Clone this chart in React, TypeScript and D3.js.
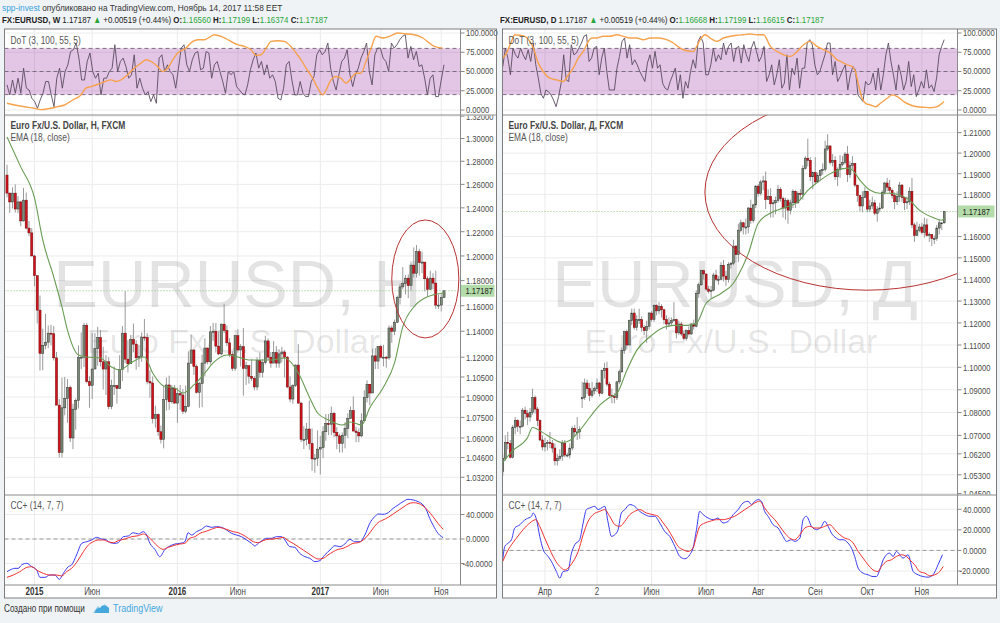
import React from 'react';
import * as d3 from 'd3';

const FONT = '"Liberation Sans", Arial, sans-serif';

// ---------- weekly EURUSD (left panel), opens = previous close ----------
const wFirstOpen = 1.268;
const wClose = [
  1.2525, 1.245, 1.2525, 1.239, 1.245, 1.229, 1.2465, 1.223, 1.219, 1.2,
  1.184, 1.1565, 1.123, 1.129, 1.1315, 1.1385, 1.138, 1.1195, 1.084, 1.0495,
  1.082, 1.089, 1.097, 1.06, 1.081, 1.0875, 1.12, 1.12, 1.1445, 1.1015,
  1.0985, 1.111, 1.1265, 1.135, 1.1165, 1.111, 1.1165, 1.083, 1.0985, 1.0985,
  1.0965, 1.1105, 1.1385, 1.1185, 1.115, 1.1335, 1.13, 1.1195, 1.1205, 1.1355,
  1.135, 1.1015, 1.1005, 1.074, 1.077, 1.0645, 1.059, 1.088, 1.099, 1.0865,
  1.0965, 1.0855, 1.0925, 1.0915, 1.0795, 1.083, 1.1155, 1.1255, 1.113, 1.0935,
  1.1, 1.1155, 1.127, 1.1165, 1.1395, 1.14, 1.1285, 1.1225, 1.1455, 1.1405,
  1.131, 1.122, 1.1115, 1.1365, 1.1255, 1.128, 1.1115, 1.1135, 1.1055, 1.104,
  1.0975, 1.1175, 1.1085, 1.116, 1.1325, 1.12, 1.1155, 1.1235, 1.1155, 1.1225,
  1.124, 1.12, 1.0975, 1.0885, 1.0985, 1.114, 1.0855, 1.059, 1.059, 1.0665,
  1.056, 1.045, 1.0455, 1.052, 1.053, 1.0645, 1.0705, 1.07, 1.078, 1.064,
  1.0615, 1.056, 1.062, 1.067, 1.074, 1.08, 1.065, 1.064, 1.0615, 1.0725,
  1.0895, 1.0995, 1.093, 1.121, 1.117, 1.128, 1.12, 1.12, 1.1195, 1.1425,
  1.14, 1.147, 1.1665, 1.175, 1.1775, 1.182, 1.176, 1.1925, 1.186, 1.2035,
  1.1945, 1.195, 1.1815, 1.173, 1.182, 1.178, 1.1605, 1.1605, 1.1665, 1.17187,
];
const wHigh = [
  1.277, 1.253, 1.2575, 1.26, 1.25, 1.246, 1.257, 1.253, 1.229, 1.223,
  1.201, 1.184, 1.168, 1.142, 1.1535, 1.1445, 1.145, 1.144, 1.124, 1.0885,
  1.1045, 1.105, 1.1035, 1.0985, 1.085, 1.089, 1.129, 1.139, 1.1465, 1.1465,
  1.1055, 1.1385, 1.1385, 1.1435, 1.141, 1.128, 1.1215, 1.12, 1.103, 1.113,
  1.099, 1.1215, 1.144, 1.1715, 1.133, 1.137, 1.146, 1.133, 1.1295, 1.139,
  1.1495, 1.1385, 1.11, 1.1055, 1.0835, 1.078, 1.069, 1.0985, 1.1045, 1.106,
  1.099, 1.099, 1.097, 1.099, 1.096, 1.0985, 1.1245, 1.1375, 1.126, 1.1145,
  1.1015, 1.122, 1.1345, 1.1275, 1.144, 1.1465, 1.1465, 1.14, 1.146, 1.1615,
  1.1445, 1.1345, 1.1245, 1.137, 1.1415, 1.13, 1.1425, 1.1165, 1.112, 1.1185,
  1.1055, 1.12, 1.1235, 1.1185, 1.1365, 1.1345, 1.124, 1.1325, 1.1285, 1.126,
  1.128, 1.1255, 1.121, 1.1055, 1.0995, 1.1145, 1.13, 1.0865, 1.0685, 1.071,
  1.0875, 1.067, 1.0485, 1.0655, 1.0615, 1.0685, 1.0775, 1.0775, 1.083, 1.079,
  1.068, 1.063, 1.064, 1.0715, 1.078, 1.083, 1.0905, 1.068, 1.067, 1.078,
  1.095, 1.1025, 1.0995, 1.1265, 1.127, 1.1285, 1.1295, 1.1295, 1.121, 1.1445,
  1.1445, 1.149, 1.168, 1.1775, 1.191, 1.1845, 1.185, 1.194, 1.207, 1.209,
  1.206, 1.2035, 1.195, 1.1835, 1.188, 1.186, 1.188, 1.169, 1.169, 1.172,
];
const wLow = [
  1.249, 1.2357, 1.2395, 1.236, 1.2355, 1.2245, 1.2285, 1.222, 1.2165, 1.2,
  1.1755, 1.146, 1.1098, 1.11, 1.126, 1.127, 1.129, 1.1175, 1.084, 1.046,
  1.046, 1.0765, 1.071, 1.057, 1.052, 1.066, 1.0815, 1.111, 1.1125, 1.1005,
  1.082, 1.0885, 1.111, 1.1135, 1.113, 1.0955, 1.0915, 1.081, 1.081, 1.0915,
  1.085, 1.096, 1.102, 1.1155, 1.1085, 1.115, 1.124, 1.1105, 1.1125, 1.1165,
  1.1325, 1.0995, 1.0895, 1.0705, 1.0675, 1.0615, 1.056, 1.0525, 1.08, 1.0805,
  1.085, 1.085, 1.071, 1.0805, 1.0775, 1.078, 1.0825, 1.115, 1.1065, 1.0925,
  1.082, 1.0825, 1.1055, 1.1145, 1.1145, 1.1325, 1.1235, 1.1215, 1.1215, 1.1385,
  1.1285, 1.12, 1.1095, 1.1095, 1.1235, 1.113, 1.091, 1.099, 1.1, 1.102,
  1.095, 1.095, 1.1045, 1.1045, 1.1145, 1.118, 1.112, 1.1155, 1.112, 1.112,
  1.116, 1.1045, 1.0965, 1.086, 1.085, 1.0975, 1.085, 1.057, 1.052, 1.0545,
  1.0515, 1.0365, 1.0352, 1.04, 1.034, 1.0455, 1.058, 1.062, 1.062, 1.0605,
  1.052, 1.0495, 1.0495, 1.0525, 1.06, 1.074, 1.065, 1.057, 1.057, 1.0605,
  1.0725, 1.086, 1.084, 1.093, 1.111, 1.111, 1.119, 1.113, 1.112, 1.118,
  1.131, 1.137, 1.1465, 1.161, 1.173, 1.169, 1.166, 1.172, 1.1825, 1.1825,
  1.184, 1.186, 1.1715, 1.167, 1.173, 1.173, 1.1575, 1.1575, 1.1555, 1.166,
];
const wEma: [number, number][] = [
  [0, 1.3014], [5, 1.2751], [10, 1.2484], [13, 1.2132], [17, 1.183], [20, 1.159], [22, 1.1409],
  [26, 1.1217], [29, 1.1202], [34, 1.1194], [38, 1.1125], [41, 1.1103], [45, 1.1156], [50, 1.1202],
  [53, 1.108], [57, 1.0982], [61, 1.0967], [64, 1.093], [68, 1.099], [72, 1.108], [75, 1.1156],
  [80, 1.1217], [84, 1.1202], [88, 1.1179], [96, 1.1179], [101, 1.1194], [106, 1.108], [110, 1.0901],
  [113, 1.0782], [117, 1.0731], [122, 1.0694], [125, 1.0716], [129, 1.0694], [132, 1.082],
  [137, 1.0975], [141, 1.1156], [144, 1.1434], [148, 1.159], [152, 1.1661], [155, 1.1686], [159, 1.1701],
];
const wDotFast = [
  32.6, 19.6, 39, 21.7, 41.3, 21.7, 54.3, 28.3, 26, 15.2,
  10.9, 2.2, 13, 21.7, 37, 37, 19.6, 4.3, 41.3, 54.3,
  28.3, 50, 58.7, 76, 78.3, 87, 67.4, 39, 39, 63,
  74, 50, 41.3, 47.8, 19.6, 41.3, 41.3, 50, 54.3, 84.8,
  50, 63, 67.4, 56.5, 41.3, 45.7, 71.7, 28.3, 41.3, 28.3,
  19.6, 23.9, 10.9, 19.6, 8.7, 67.4, 71.7, 50, 58.7, 50,
  45.7, 28.3, 54.3, 80.4, 84.8, 58.7, 50, 65.2, 74, 76,
  52.2, 54.3, 76, 74, 41.3, 58.7, 63, 50, 37, 21.7,
  50, 45.7, 50, 30.4, 26, 21.7, 19.6, 32.6, 52.2, 65.2,
  74, 54.3, 63, 45.7, 58.7, 41.3, 45.7, 37, 15.2, 13,
  28.3, 58.7, 63, 39, 19.6, 19.6, 37, 21.7, 17.4, 17.4,
  37, 43.5, 71.7, 78.3, 71.7, 76, 87, 54.3, 37, 26,
  45.7, 63, 67.4, 78.3, 45.7, 30.4, 45.7, 54.3, 67.4, 76,
  87, 50, 32.6, 71.7, 80.4, 80.4, 67.4, 63, 50, 87,
  80.4, 84.8, 91.3, 95.7, 97.8, 67.4, 82.6, 65.2, 76, 56.5,
  58.7, 41.3, 19.6, 41.3, 45.7, 17.4, 17.4, 39, 58.7,
];
const wDotSlow: [number, number][] = [
  [0, 8.7], [2.7, 6.5], [6.3, 4.3], [9.9, 2.2], [12.4, 0.5], [16, 2.2], [18.4, 4.3], [20.9, 6.5],
  [23.9, 13], [26.9, 19.6], [28.7, 28.3], [30.6, 30.4], [34.2, 34.8], [37.8, 39.1], [39.7, 37],
  [41.5, 39.1], [43.9, 45.7], [46.3, 54.3], [48.8, 60.9], [50.6, 65.2], [52.4, 63], [54.8, 56.5],
  [56.6, 50], [58.5, 54.3], [60.3, 65.2], [62.1, 73.9], [65.1, 80.4], [67.6, 89.1], [69.4, 91.3],
  [71.8, 91.3], [73.6, 94.3], [75.4, 97.8], [77.9, 95.7], [81.5, 89.1], [83.9, 84.8], [86.4, 82.6],
  [88.8, 78.3], [90.6, 70.9], [92.4, 71.7], [94.3, 80.4], [96.1, 89.1], [98.5, 90], [100.9, 89.1],
  [103.3, 82.6], [105.2, 73.9], [107, 65.2], [108.8, 54.3], [111.2, 41.3], [113.1, 28.3],
  [114.9, 19.6], [116.1, 26], [117.9, 39.1], [119.7, 43.5], [121.5, 41.3], [123.4, 34.8],
  [125.2, 41.3], [127, 47.8], [128.8, 47.8], [130.6, 63], [132.5, 80.4], [134.3, 95.7],
  [136.7, 93.5], [139.1, 95.7], [142.2, 100], [144.6, 99.1], [148.2, 97.8], [151.3, 93.5],
  [153.7, 87], [155.5, 82.6], [158.5, 80.4],
];
const wCcBlue: [number, number][] = [
  [0, -53.3], [1.1, -50.6], [2.9, -47.9], [4.1, -47.9], [5.3, -42.4], [7.2, -39.7], [9, -45.2],
  [10.8, -50.6], [12, -62.6], [13.8, -62.6], [15.6, -58.8], [17.5, -58.8], [19, -65.9], [20.5, -56.1],
  [22.3, -45.2], [23.5, -42.4], [25.3, -26.1], [27.2, -7.1], [29, -4.4], [30.8, -1.6], [32.6, 2.7],
  [34.4, 0], [36.2, -1.6], [37.5, -6], [39.3, -7.1], [40.5, -6], [42.3, 3.8], [44.1, 4.9],
  [45.9, 10.3], [47.8, 8.2], [49.6, 12], [50.8, 6.5], [52, -7.1], [53.8, -16.9], [55.6, -28.8],
  [57.5, -16.9], [59.3, -11.4], [61.1, -8.2], [62.9, -7.1], [64.7, -4.4], [65.9, 10.3], [67.2, 6.5],
  [69, 12], [70.8, 15.8], [72.6, 21.2], [74.4, 19], [76.2, 20.1], [78.1, 19], [79.9, 14.7],
  [81.7, 9.3], [83.5, 6.5], [85.3, 3.8], [87.2, -1.6], [89, -7.1], [90.2, -11.4], [91.4, -7.1],
  [93.2, -1.6], [94.4, 1.1], [96.2, 1.1], [98.1, 3.8], [99.9, 3.8], [101.1, -1.6], [102.9, -12.5],
  [104.7, -13.6], [106.5, -23.4], [108.4, -28.8], [110.2, -31.6], [112, -37], [113.8, -35.4],
  [115.6, -26.1], [117.5, -18], [119.3, -10.9], [121.1, -12.5], [122.9, -8.2], [124.7, -0.5],
  [126.5, -4.4], [128.4, -4.4], [130.2, 6.5], [132, 25.6], [133.8, 36.5], [135, 40.8], [136.8, 40.3],
  [138.7, 43], [140.5, 50.1], [142.3, 55.5], [144.1, 61], [145.9, 64.8], [147.8, 63.7], [149.6, 61],
  [151.4, 55.5], [152.6, 47.3], [153.8, 33.7], [155, 22.9], [156.8, 9.3], [158.1, 3.8], [158.7, 2.2],
];
const wCcRed: [number, number][] = [
  [0, -62.6], [2.3, -58.8], [4.7, -53.3], [7.2, -46.3], [9, -45.2], [10.8, -50.6], [13.2, -56.1],
  [15.6, -58.8], [18.1, -58.8], [19.9, -60.4], [21.7, -53.3], [23.5, -47.9], [25.9, -34.3],
  [27.8, -20.7], [29.6, -9.8], [31.4, -4.4], [33.2, -1.6], [35, -1.6], [36.8, -4.4], [38.7, -6],
  [40.5, -2.7], [42.9, 0], [45.3, 3.8], [47.8, 5.4], [49.6, 8.2], [51.4, 3.8], [53.2, -4.4],
  [55, -12.5], [56.8, -16.9], [58.7, -13.6], [60.5, -10.9], [62.9, -8.2], [64.7, -7.1], [66.5, 1.1],
  [68.4, 3.8], [70.2, 9.3], [72, 12], [74.4, 15.8], [76.8, 19], [78.7, 17.4], [80.5, 14.7],
  [82.3, 12], [84.1, 10.3], [85.9, 6.5], [87.8, 1.1], [89.6, -4.4], [91.4, -6], [93.2, -2.7],
  [95, -0.5], [96.8, 0], [98.7, 1.1], [100.5, 2.7], [102.3, -2.7], [104.1, -7.1], [105.9, -12.5],
  [107.8, -18], [109.6, -23.4], [111.4, -28.8], [113.2, -32.7], [115, -31.6], [116.8, -26.1],
  [118.7, -20.7], [120.5, -16.9], [122.3, -15.2], [124.1, -11.4], [125.9, -7.1], [127.8, -6],
  [129.6, -1.6], [131.4, 6.5], [133.2, 17.4], [135, 26.7], [136.8, 31], [138.7, 35.4], [140.5, 40.8],
  [142.3, 46.3], [144.1, 51.7], [145.9, 57.1], [147.8, 59.3], [149.6, 58.2], [151.4, 53.9],
  [153.2, 46.3], [155, 36.5], [156.8, 25.6], [158.7, 15.8],
];
const wPriceTicks = [1.32, 1.3, 1.28, 1.26, 1.24, 1.22, 1.2, 1.18, 1.16, 1.14, 1.12, 1.105, 1.09, 1.075, 1.06, 1.046, 1.032];
const wTimeLabels = ['2015', 'Июн', '2016', 'Июн', '2017', 'Июн', 'Ноя'];
const wTimeIdx = [10, 31, 62, 84, 114, 136, 158];
const wTimeBold = [true, false, true, false, true, false, false];

// ---------- daily EURUSD (right panel), opens = previous close ----------
const dFirstOpen = 1.0545;
const dGapIdx = [32];
const dGapOpen = [1.086];
const dClose = [
  1.06, 1.067, 1.0665, 1.0605, 1.0735, 1.0765, 1.074, 1.074, 1.081, 1.0795,
  1.078, 1.08, 1.0865, 1.0815, 1.0765, 1.068, 1.065, 1.0665, 1.067, 1.0665,
  1.0645, 1.059, 1.06, 1.061, 1.0665, 1.0615, 1.0615, 1.0645, 1.073, 1.0715,
  1.0715, 1.0725, 1.0865, 1.093, 1.0905, 1.0875, 1.0895, 1.0905, 1.093, 1.0885,
  1.0985, 1.0995, 1.0925, 1.0875, 1.087, 1.0865, 1.0935, 1.098, 1.1075, 1.116,
  1.11, 1.121, 1.1245, 1.118, 1.1215, 1.1215, 1.118, 1.1165, 1.1185, 1.1245,
  1.1215, 1.128, 1.1255, 1.1275, 1.126, 1.1215, 1.1195, 1.12, 1.121, 1.1215,
  1.1155, 1.1195, 1.115, 1.113, 1.1165, 1.115, 1.1195, 1.1185, 1.1335, 1.1375,
  1.144, 1.1425, 1.1355, 1.1345, 1.135, 1.142, 1.14, 1.14, 1.1465, 1.1415,
  1.14, 1.147, 1.1475, 1.1555, 1.1515, 1.163, 1.1665, 1.1645, 1.1645, 1.1735,
  1.1675, 1.175, 1.184, 1.1805, 1.186, 1.1865, 1.1775, 1.179, 1.1755, 1.176,
  1.177, 1.1825, 1.178, 1.1735, 1.177, 1.1725, 1.176, 1.1815, 1.176, 1.1805,
  1.18, 1.1925, 1.1975, 1.1965, 1.1885, 1.1905, 1.186, 1.189, 1.1915, 1.192,
  1.202, 1.2035, 1.1955, 1.1965, 1.1885, 1.192, 1.1945, 1.1955, 1.1995, 1.1895,
  1.194, 1.195, 1.1845, 1.1795, 1.1745, 1.1785, 1.1815, 1.173, 1.1745, 1.176,
  1.171, 1.173, 1.1735, 1.181, 1.1855, 1.1835, 1.182, 1.1795, 1.1765, 1.179,
  1.1845, 1.1785, 1.176, 1.1765, 1.1815, 1.1655, 1.1605, 1.163, 1.1645, 1.162,
  1.1655, 1.1605, 1.161, 1.159, 1.159, 1.164, 1.1665, 1.1665, 1.17187,
];
const dHigh = [
  1.0615, 1.07, 1.0715, 1.068, 1.0745, 1.078, 1.077, 1.0765, 1.082, 1.0825,
  1.081, 1.082, 1.0905, 1.0875, 1.0825, 1.077, 1.07, 1.069, 1.068, 1.0715,
  1.068, 1.0665, 1.062, 1.064, 1.068, 1.068, 1.0625, 1.0665, 1.074, 1.0745,
  1.078, 1.074, 1.0935, 1.095, 1.0945, 1.093, 1.0935, 1.0915, 1.095, 1.0935,
  1.099, 1.102, 1.1025, 1.0935, 1.0905, 1.0885, 1.094, 1.099, 1.109, 1.1165,
  1.117, 1.1215, 1.1265, 1.1265, 1.1235, 1.1265, 1.123, 1.119, 1.121, 1.125,
  1.1255, 1.1285, 1.1285, 1.1295, 1.1285, 1.1265, 1.1235, 1.1225, 1.1225, 1.1295,
  1.122, 1.121, 1.1205, 1.1165, 1.117, 1.1185, 1.12, 1.1215, 1.135, 1.1385,
  1.1445, 1.1445, 1.1425, 1.137, 1.137, 1.143, 1.1445, 1.1415, 1.148, 1.149,
  1.144, 1.148, 1.148, 1.1585, 1.156, 1.166, 1.168, 1.167, 1.1685, 1.174,
  1.1775, 1.1755, 1.1845, 1.185, 1.187, 1.189, 1.191, 1.1825, 1.183, 1.1775,
  1.179, 1.1845, 1.1835, 1.179, 1.1785, 1.178, 1.1775, 1.1825, 1.182, 1.1815,
  1.1825, 1.194, 1.1985, 1.207, 1.198, 1.191, 1.198, 1.1905, 1.192, 1.195,
  1.206, 1.2092, 1.2005, 1.1995, 1.1985, 1.193, 1.199, 1.1985, 1.2005, 1.2035,
  1.196, 1.1985, 1.195, 1.1845, 1.1795, 1.1815, 1.1835, 1.1815, 1.1775, 1.179,
  1.1775, 1.1745, 1.176, 1.182, 1.186, 1.188, 1.187, 1.183, 1.181, 1.1815,
  1.186, 1.185, 1.1785, 1.179, 1.1835, 1.188, 1.1665, 1.167, 1.166, 1.1665,
  1.169, 1.1685, 1.162, 1.161, 1.1605, 1.1655, 1.168, 1.1665, 1.172,
];
const dLow = [
  1.0525, 1.059, 1.064, 1.06, 1.06, 1.0705, 1.0715, 1.0705, 1.0735, 1.077,
  1.0745, 1.076, 1.079, 1.0795, 1.074, 1.0675, 1.0635, 1.063, 1.0635, 1.0645,
  1.0625, 1.057, 1.057, 1.059, 1.059, 1.0605, 1.0605, 1.06, 1.0635, 1.0695,
  1.068, 1.0685, 1.082, 1.0855, 1.088, 1.085, 1.0865, 1.088, 1.089, 1.087,
  1.088, 1.095, 1.0915, 1.087, 1.084, 1.084, 1.0855, 1.0925, 1.0975, 1.106,
  1.108, 1.11, 1.119, 1.117, 1.1165, 1.1195, 1.116, 1.1145, 1.111, 1.117,
  1.1205, 1.1205, 1.1235, 1.124, 1.1225, 1.1195, 1.117, 1.118, 1.119, 1.1205,
  1.113, 1.1145, 1.114, 1.112, 1.112, 1.1145, 1.1145, 1.117, 1.118, 1.1315,
  1.137, 1.14, 1.1345, 1.1335, 1.131, 1.1345, 1.139, 1.1375, 1.1395, 1.139,
  1.137, 1.1385, 1.145, 1.1465, 1.148, 1.148, 1.162, 1.161, 1.161, 1.1615,
  1.166, 1.1665, 1.1735, 1.179, 1.1795, 1.182, 1.173, 1.1775, 1.169, 1.169,
  1.1705, 1.176, 1.1765, 1.169, 1.168, 1.166, 1.1705, 1.1735, 1.1735, 1.1755,
  1.1775, 1.1775, 1.192, 1.1935, 1.1865, 1.1825, 1.185, 1.1855, 1.1865, 1.1895,
  1.191, 1.201, 1.1945, 1.1935, 1.187, 1.184, 1.188, 1.1935, 1.1945, 1.186,
  1.188, 1.192, 1.1835, 1.1765, 1.172, 1.1715, 1.1785, 1.1715, 1.1715, 1.173,
  1.17, 1.167, 1.1715, 1.173, 1.18, 1.1815, 1.1805, 1.178, 1.173, 1.175,
  1.1765, 1.1765, 1.1725, 1.173, 1.175, 1.164, 1.1575, 1.1605, 1.162, 1.161,
  1.1595, 1.16, 1.1575, 1.1555, 1.1565, 1.158, 1.161, 1.163, 1.166,
];
const dEma: [number, number][] = [
  [0, 1.0583], [4, 1.0634], [10, 1.0691], [12, 1.0734], [16, 1.0713], [20, 1.0687], [24, 1.0669],
  [27, 1.0678], [31, 1.0721], [35, 1.0778], [39, 1.0831], [43, 1.0866], [46, 1.0884], [50, 1.0986],
  [54, 1.1076], [59, 1.1134], [65, 1.118], [69, 1.1189], [74, 1.1189], [78, 1.1198], [82, 1.129],
  [88, 1.1335], [93, 1.1382], [95, 1.142], [99, 1.152], [103, 1.1663], [108, 1.1711], [113, 1.1735],
  [119, 1.1763], [123, 1.182], [127, 1.1859], [131, 1.1893], [135, 1.1917], [139, 1.1927],
  [141, 1.1917], [144, 1.1869], [148, 1.1821], [152, 1.1806], [156, 1.1806], [160, 1.1797],
  [164, 1.1773], [168, 1.1725], [173, 1.1692], [177, 1.1677], [178, 1.1687],
];
const dDotFast = [
  56.5, 80.4, 67.4, 45.7, 80.4, 71.7, 67.4, 80.4, 71.7, 65.2,
  78.3, 63, 87, 58.7, 41.3, 21.7, 15.2, 26, 23.9, 19.6,
  13, 4.3, 17.4, 34.8, 71.7, 39, 37, 84.8, 71.7, 73.9,
  80.4, 87, 95.7, 97.8, 63, 67.4, 80.4, 82.6, 45.7, 67.4,
  80.4, 50, 26, 26, 26, 54.3, 69.6, 89.1, 93.5, 67.4,
  84.8, 58.7, 65.2, 58.7, 50, 43.5, 37, 60.9, 71.7, 54.3,
  76.1, 54.3, 58.7, 34.8, 28.3, 26, 37, 45.7, 54.3, 26,
  45.7, 15.2, 37, 28.3, 50, 65.2, 54.3, 89.1, 95.7, 87,
  45.7, 45.7, 58.7, 80.4, 63, 71.7, 65.2, 87, 71.7, 82.6,
  87, 63, 80.4, 82.6, 60.9, 84.8, 71.7, 63, 80.4, 89.1,
  76.1, 63, 69.6, 82.6, 37, 45.7, 58.7, 32.6, 45.7, 65.2,
  28.3, 34.8, 71.7, 26, 54.3, 45.7, 67.4, 28.3, 54.3, 54.3,
  87, 91.3, 84.8, 58.7, 45.7, 50, 60.9, 71.7, 87, 87,
  45.7, 63, 37, 43.5, 52.2, 58.7, 26, 45.7, 56.5, 52.2,
  19.6, 15.2, 10.9, 37, 32.6, 34.8, 47.8, 26, 54.3, 26,
  45.7, 71.7, 87, 63, 45.7, 26, 58.7, 45.7, 26, 37,
  63, 30.4, 45.7, 17.4, 26, 37, 28.3, 52.2, 28.3, 32.6,
  23.9, 41.3, 71.7, 82.6, 91.3,
];
const dDotSlow: [number, number][] = [
  [0, 67.4], [1.5, 73.9], [3.5, 89.1], [4.8, 97.8], [6.9, 97], [8.9, 95.7], [10.9, 89.1],
  [12.3, 80.4], [14.3, 60.9], [16.3, 50], [19, 41.3], [21.7, 39.1], [24.4, 37], [26.4, 45.7],
  [28.4, 54.3], [30.4, 67.4], [32.5, 76.1], [34.5, 89.1], [35.8, 93.5], [37.8, 93.5], [40.5, 95.7],
  [43.2, 95.7], [45.9, 97.8], [48.6, 95.7], [51.3, 93.5], [54, 93.5], [56.7, 91.3], [59.4, 93.5],
  [62.8, 93.5], [66.1, 91.3], [68.8, 87], [71.5, 80.4], [74.2, 77], [76.9, 76.1], [78.2, 82.6],
  [79.6, 91.3], [81.6, 97.8], [83.6, 93.5], [86.3, 89.1], [89, 93.5], [91.7, 95.7], [94.4, 97],
  [97.1, 97.8], [99.8, 98.7], [102.5, 97.8], [105.2, 97.8], [107.9, 82.6], [110.6, 76.1],
  [113.3, 71.7], [116, 69.6], [118.7, 76.1], [121.3, 84.8], [124, 89.1], [126.7, 82.6],
  [129.4, 78.3], [132.1, 73.9], [134.8, 65.2], [136.2, 63], [138.9, 58.7], [140.9, 56.5],
  [142.2, 50], [143.6, 30.4], [144.9, 15.2], [146.3, 8.7], [148.3, 6.5], [150.3, 4.3], [152.3, 8.7],
  [155, 15.2], [157, 19.6], [159.1, 17.4], [161.7, 10.9], [164.4, 6.5], [167.1, 4.3], [169.8, 3.5],
  [172.5, 3], [175.2, 4.3], [177.9, 10.9],
];
const dCcBlue: [number, number][] = [
  [0, -9.1], [0.8, 3.9], [2.2, 7.2], [3.5, 10.4], [4.8, 21.8], [6.9, 25], [8.2, 28.3], [9.5, 30.6],
  [11.6, 33.2], [12.2, 36.4], [13.6, 29.9], [14.9, 13.7], [16.3, 0.7], [18.3, -5.9], [19.6, -10.7],
  [21.6, -20.5], [23, -27], [24.3, -20.5], [26.3, -19.5], [27.7, -2.6], [29, 5.5], [31, 10.4],
  [32.4, 26.7], [33.7, 39.7], [35.1, 41.3], [37.1, 42.9], [38.4, 39.7], [39.8, 41.3], [41.1, 42.9],
  [42.5, 26.7], [43.8, 13.7], [45.2, 15.3], [46.5, 20.2], [47.8, 36.4], [49.2, 39.7], [51.2, 44.6],
  [53.2, 42.9], [55.2, 38], [57.3, 34.8], [59.3, 33.2], [61.3, 33.2], [63.3, 26.7], [65.3, 18.5],
  [67.3, 13.7], [69.4, 3.9], [71.4, -5.9], [73.4, -8.1], [75.4, -4.2], [76.7, 2.3], [78.1, 20.2],
  [79.4, 38], [80.8, 34.8], [82.8, 31.5], [84.8, 29.9], [86.8, 31.5], [88.8, 26.7], [90.9, 28.3],
  [92.9, 34.8], [94.9, 39.7], [96.9, 46.2], [98.9, 47.8], [100.3, 44.6], [101.6, 47.8], [103, 49.4],
  [104.3, 47.8], [105.6, 38], [107, 33.2], [109, 25], [111, 21.8], [113, 13.7], [114.4, 8.8],
  [116.4, 10.4], [117.7, 8.8], [119.8, 12], [121.1, 29.9], [122.4, 33.2], [124.5, 23.4], [126.5, 20.2],
  [128.5, 23.4], [129.8, 28.3], [131.2, 23.4], [132.5, 16.9], [134.5, 12], [135.9, 10.4],
  [137.2, 10.4], [139.2, 7.2], [140.6, 2.3], [141.9, -5.9], [143.3, -17.2], [145.3, -22.1],
  [147.3, -23.7], [149.3, -25.4], [150.7, -25.4], [152, -18.9], [153.4, -9.1], [154.7, -4.2],
  [156, -2.6], [157.4, -5.9], [158.7, -1], [160.1, -4.2], [161.4, -7.5], [163.4, -4.2],
  [165.5, -20.5], [167.5, -23.7], [169.5, -25.4], [171.5, -26], [173.5, -23.7], [175.5, -14], [177.3, -4.2],
];
const dCcRed: [number, number][] = [
  [0, -10.7], [1.5, -2.6], [3.5, 5.5], [5.5, 12], [8.2, 20.2], [10.9, 26.7], [13.3, 29.9], [14.9, 23.4],
  [16.9, 12], [19, 0.7], [21, -9.1], [23, -15.6], [25, -18.9], [26.3, -17.2], [28.4, -10.7], [30.4, -1],
  [32.4, 15.3], [34.4, 28.3], [36.4, 34.8], [39.1, 38], [41.1, 39.7], [43.1, 33.2], [45.2, 25],
  [47.2, 23.4], [49.2, 28.3], [51.2, 34.8], [53.2, 38], [55.2, 39.7], [57.9, 36.4], [60.6, 34.8],
  [62.6, 33.2], [64.7, 26.7], [66.7, 20.2], [68.7, 12], [70.7, 3.9], [72.7, 0.7], [74.7, -1],
  [76.7, 2.3], [78.1, 13.7], [79.4, 23.4], [81.5, 26.7], [83.5, 28.3], [86.2, 29.9], [88.8, 29.9],
  [91.5, 31.5], [93.5, 33.2], [95.6, 36.4], [97.6, 39.7], [99.6, 42.9], [101.6, 46.2], [103.6, 47.8],
  [105.6, 41.3], [107.7, 34.8], [109.7, 29.9], [111.7, 23.4], [113.7, 16.9], [115.7, 12],
  [117.7, 10.4], [119.8, 15.3], [121.8, 21.8], [123.8, 23.4], [125.8, 21.8], [127.8, 21.8],
  [129.8, 23.4], [131.9, 25], [133.9, 20.2], [135.9, 15.3], [137.9, 12], [139.9, 10.4], [141.3, 7.2],
  [143.3, -1], [145.3, -7.5], [147.3, -14], [149.3, -18.9], [151.3, -20.5], [152.7, -15.6],
  [154.7, -10.7], [156.7, -9.1], [158.7, -5.9], [160.8, -4.2], [162.8, -5.9], [164.1, -9.1],
  [166.1, -14], [168.1, -20.5], [170.2, -22.1], [172.2, -24.7], [174.2, -23.7], [176.2, -20.5], [177.6, -15.6],
];
const dPriceTicks = [1.21, 1.2, 1.19, 1.18, 1.16, 1.15, 1.14, 1.13, 1.12, 1.11, 1.1, 1.09, 1.08, 1.07, 1.062, 1.053, 1.045];
const dTimeLabels = ['Апр', '2', 'Июн', 'Июл', 'Авг', 'Сен', 'Окт', 'Ноя'];
const dTimeIdx = [17, 38, 60, 82, 103, 126, 147, 169];
const dTimeBold = [false, false, false, false, false, false, false, false];

const dotTicks = [100, 75, 50, 25, 0];
const dotLevels = [80, 50, 20];

// ---------- layout ----------
const TOP = 29;
const DOT_B = 115;
const PRICE_B = 495;
const CC_B = 585;
const BOTTOM = 598;

const UP_FILL = '#7c8b77';
const UP_STROKE = '#333';
const DOWN_FILL = '#d0121c';
const DOWN_STROKE = '#6e0b0b';
const LABEL = '#4a4a4a';
const GREEN_TXT = '#2aa53a';
const SX = 0.8; // the screenshot's UI font is narrower than Liberation Sans

// text squeezed horizontally around its anchor point
function T({ x, y, sx = SX, children, ...rest }: any) {
  return (
    <text transform={`translate(${x},${y}) scale(${sx},1)`} fontFamily={FONT} {...rest}>
      {children}
    </text>
  );
}

interface PanelProps {
  id: string;
  left: number;
  axisX: number;
  right: number;
  xRange: [number, number];
  firstOpen: number;
  close: number[];
  high: number[];
  low: number[];
  gapIdx: number[];
  gapOpen: number[];
  ema: [number, number][];
  dotFast: number[];
  dotSlow: [number, number][];
  ccBlue: [number, number][];
  ccRed: [number, number][];
  priceDomain: [number, number];
  priceTicks: number[];
  ccDomain: [number, number];
  ccRange: [number, number];
  ccTicks: number[];
  timeLabels: string[];
  timeIdx: number[];
  timeBold: boolean[];
  title: string;
  watermark: string;
  ellipse: { i0: number; i1: number; pTop: number; pBottom: number };
  ticker: string;
  ohlc: string[];
}

function Panel(p: PanelProps) {
  const n = p.close.length;
  const last = n - 1;
  const x = d3.scaleLinear().domain([0, last]).range(p.xRange);
  const y = d3.scaleLog().domain(p.priceDomain).range([PRICE_B, DOT_B]);
  const yDot = d3.scaleLinear().domain([0, 100]).range([110, 33]);
  const yCc = d3.scaleLinear().domain(p.ccDomain).range(p.ccRange);
  const plotW = p.axisX - p.left;
  const step = x(1) - x(0);
  const bw = step * 0.78;

  const priceLine = d3.line<[number, number]>().x(d => x(d[0])).y(d => y(d[1])).curve(d3.curveMonotoneX);
  const dotLine = d3.line<[number, number]>().x(d => x(d[0])).y(d => yDot(d[1]));
  const dotSmooth = d3.line<[number, number]>().x(d => x(d[0])).y(d => yDot(d[1])).curve(d3.curveMonotoneX);
  const ccLine = d3.line<[number, number]>().x(d => x(d[0])).y(d => yCc(d[1])).curve(d3.curveMonotoneX);
  const fastPts: [number, number][] = p.dotFast.map((v, j) => [(j * last) / (p.dotFast.length - 1), v]);

  const lastClose = p.close[last];
  const e = p.ellipse;
  const ex0 = x(e.i0), ex1 = x(e.i1);
  const ey0 = y(e.pTop), ey1 = y(e.pBottom);

  const wmX = (p.left + p.axisX) / 2 + 5;

  return (
    <g>
      <defs>
        <clipPath id={`${p.id}-dot`}><rect x={p.left} y={TOP} width={plotW} height={DOT_B - TOP} /></clipPath>
        <clipPath id={`${p.id}-price`}><rect x={p.left} y={DOT_B} width={plotW} height={PRICE_B - DOT_B} /></clipPath>
        <clipPath id={`${p.id}-cc`}><rect x={p.left} y={PRICE_B} width={plotW} height={CC_B - PRICE_B} /></clipPath>
        <clipPath id={`${p.id}-axis`}><rect x={p.axisX} y={DOT_B + 0.5} width={p.right - p.axisX} height={PRICE_B - DOT_B - 1} /></clipPath>
      </defs>
      <rect x={p.left} y={TOP} width={p.right - p.left} height={BOTTOM - TOP} fill="#fff" />

      {/* header line */}
      <T x={p.left - 2.5} y={23} sx={0.81} fontSize={9.8} fill="#222">
        <tspan fontWeight="bold">{p.ticker}</tspan>
        <tspan>{` ${lastClose.toFixed(5)} `}</tspan>
        <tspan fill={GREEN_TXT}>▲</tspan>
        <tspan>{' +0.00519 (+0.44%) '}</tspan>
        {['O:', 'H:', 'L:', 'C:'].map((k, i) => (
          <React.Fragment key={k}>
            <tspan fontWeight="bold">{k}</tspan>
            <tspan fill={GREEN_TXT}>{p.ohlc[i] + (i < 3 ? ' ' : '')}</tspan>
          </React.Fragment>
        ))}
      </T>

      {/* vertical grid */}
      {p.timeIdx.map((t, i) => (
        <line key={'vg' + i} x1={x(t)} x2={x(t)} y1={TOP} y2={CC_B} stroke="#ebebeb" />
      ))}

      {/* ---- DoT pane ---- */}
      <g clipPath={`url(#${p.id}-dot)`}>
        {dotTicks.map(v => (
          <line key={'dg' + v} x1={p.left} x2={p.axisX} y1={yDot(v)} y2={yDot(v)} stroke="#ececec" />
        ))}
        <rect x={p.left} y={yDot(80)} width={plotW} height={yDot(20) - yDot(80)} fill="rgba(150,40,160,0.27)" />
        {dotLevels.map(v => (
          <line key={'dl' + v} x1={p.left} x2={p.axisX} y1={yDot(v)} y2={yDot(v)} stroke="#7d6d80" strokeDasharray="4 3" />
        ))}
        <path d={dotLine(fastPts) || ''} fill="none" stroke="#5a4c60" strokeWidth={0.9} />
        <path d={dotSmooth(p.dotSlow) || ''} fill="none" stroke="#f7a24c" strokeWidth={1.4} />
      </g>
      <T x={p.left + 6} y={44} fontSize={10.5} fill="#555">DoT (3, 100, 55, 5)</T>

      {/* ---- price pane ---- */}
      <g clipPath={`url(#${p.id}-price)`}>
        {p.priceTicks.map(v => (
          <line key={'pg' + v} x1={p.left} x2={p.axisX} y1={y(v)} y2={y(v)} stroke="#ececec" />
        ))}
        <text x={wmX} y={307} textAnchor="middle" fontSize={67} fill="rgba(0,0,0,0.11)" fontFamily={FONT}>{p.watermark}</text>
        <text x={wmX - 4} y={353} textAnchor="middle" fontSize={34} fill="rgba(0,0,0,0.11)" fontFamily={FONT}>Euro Fx/U.S. Dollar</text>
        <line x1={p.left} x2={p.axisX} y1={y(lastClose)} y2={y(lastClose)} stroke="#8cc47e" strokeDasharray="1 2" />
        {p.close.map((c, i) => {
          const gi = p.gapIdx.indexOf(i);
          const o = gi >= 0 ? p.gapOpen[gi] : i === 0 ? p.firstOpen : p.close[i - 1];
          const hi = Math.max(p.high[i], o, c);
          const lo = Math.min(p.low[i], o, c);
          const up = c >= o;
          const cx = x(i);
          const top = y(Math.max(o, c));
          const h = Math.max(1, y(Math.min(o, c)) - top);
          return (
            <g key={'c' + i}>
              <line x1={cx} x2={cx} y1={y(hi)} y2={y(lo)} stroke="#9a9a9a" strokeWidth={1} />
              <rect x={cx - bw / 2} y={top} width={bw} height={h} fill={up ? UP_FILL : DOWN_FILL} stroke={up ? UP_STROKE : DOWN_STROKE} strokeWidth={0.5} />
            </g>
          );
        })}
        <path d={priceLine(p.ema) || ''} fill="none" stroke="#6a9c55" strokeWidth={1.1} />
        <ellipse cx={(ex0 + ex1) / 2} cy={(ey0 + ey1) / 2} rx={(ex1 - ex0) / 2} ry={(ey1 - ey0) / 2} fill="none" stroke="#b83232" strokeWidth={1} />
      </g>
      <T x={p.left + 6} y={129} fontSize={10.5} fontWeight="bold" fill="#444">{p.title}</T>
      <T x={p.left + 6} y={141} fontSize={10.5} fill="#555">EMA (18, close)</T>

      {/* ---- CC pane ---- */}
      <g clipPath={`url(#${p.id}-cc)`}>
        {p.ccTicks.map(v => (
          <line key={'cg' + v} x1={p.left} x2={p.axisX} y1={yCc(v)} y2={yCc(v)} stroke="#ececec" />
        ))}
        <line x1={p.left} x2={p.axisX} y1={yCc(0)} y2={yCc(0)} stroke="#9a9a9a" strokeDasharray="4 3" />
        <path d={ccLine(p.ccBlue) || ''} fill="none" stroke="#3b3bf0" strokeWidth={1} />
        <path d={ccLine(p.ccRed) || ''} fill="none" stroke="#f03030" strokeWidth={1} />
      </g>
      <T x={p.left + 6} y={509} fontSize={10.5} fill="#555">CC+ (14, 7, 7)</T>

      {/* ---- right axis ---- */}
      <g fill={LABEL}>
        {dotTicks.map(v => (
          <g key={'dt' + v}>
            <line x1={p.axisX} x2={p.axisX + 4} y1={yDot(v)} y2={yDot(v)} stroke="#888" />
            <T x={p.axisX + 5.5} y={yDot(v) - 0.5} dy="0.35em" fontSize={9.5}>{v.toFixed(4)}</T>
          </g>
        ))}
        <g clipPath={`url(#${p.id}-axis)`}>
          {p.priceTicks.map(v => (
            <g key={'pt' + v}>
              <line x1={p.axisX} x2={p.axisX + 4} y1={y(v)} y2={y(v)} stroke="#888" />
              <T x={p.axisX + 5.5} y={y(v) + 0.5} dy="0.35em" fontSize={9.5}>{v.toFixed(5)}</T>
            </g>
          ))}
          <rect x={p.axisX} y={y(lastClose) - 6} width={p.right - p.axisX - 2} height={12} fill="#b4dcaa" />
          <T x={p.axisX + 5} y={y(lastClose)} dy="0.35em" fontSize={9.5} fill="#1c1c1c">{lastClose.toFixed(5)}</T>
        </g>
        {p.ccTicks.map(v => (
          <g key={'ct' + v}>
            <line x1={p.axisX} x2={p.axisX + 4} y1={yCc(v)} y2={yCc(v)} stroke="#888" />
            <T x={p.axisX + (v < 0 ? 2 : 5.5)} y={yCc(v)} dy="0.35em" fontSize={9.5}>{v.toFixed(4)}</T>
          </g>
        ))}
      </g>

      {/* ---- time axis ---- */}
      {p.timeLabels.map((s, i) => (
        <T key={'tl' + i} x={x(p.timeIdx[i])} y={595} fontSize={10} textAnchor="middle" fill={p.timeBold[i] ? '#333' : LABEL} fontWeight={p.timeBold[i] ? 'bold' : 'normal'}>{s}</T>
      ))}

      {/* separators and frame */}
      <line x1={p.left} x2={p.right} y1={DOT_B} y2={DOT_B} stroke="#8a8a8a" />
      <line x1={p.left} x2={p.right} y1={PRICE_B} y2={PRICE_B} stroke="#8a8a8a" />
      <line x1={p.left} x2={p.right} y1={CC_B} y2={CC_B} stroke="#8a8a8a" />
      <line x1={p.axisX} x2={p.axisX} y1={TOP} y2={CC_B} stroke="#8a8a8a" />
      <rect x={p.left} y={TOP} width={p.right - p.left} height={BOTTOM - TOP} fill="none" stroke="#7e7e7e" />
    </g>
  );
}

export default function App() {
  return (
    <svg width={1000} height={623} viewBox="0 0 1000 623" style={{ position: 'absolute', left: 0, top: 0, display: 'block' }}>
      <rect width={1000} height={623} fill="#f0f3f6" />
      <T x={2} y={11} sx={0.85} fontSize={9.8} fill="#333">
        <tspan fill="#3aa2dc">spp-invest</tspan>
        <tspan> опубликовано на TradingView.com, Ноябрь 14, 2017 11:58 EET</tspan>
      </T>
      <Panel
        id="w"
        left={4.5}
        axisX={460.5}
        right={496.5}
        xRange={[7, 444]}
        firstOpen={wFirstOpen}
        close={wClose}
        high={wHigh}
        low={wLow}
        gapIdx={[]}
        gapOpen={[]}
        ema={wEma}
        dotFast={wDotFast}
        dotSlow={wDotSlow}
        ccBlue={wCcBlue}
        ccRed={wCcRed}
        priceDomain={[1.0196, 1.321]}
        priceTicks={wPriceTicks}
        ccDomain={[-40, 40]}
        ccRange={[563.5, 514.5]}
        ccTicks={[40, 0, -40]}
        timeLabels={wTimeLabels}
        timeIdx={wTimeIdx}
        timeBold={wTimeBold}
        title="Euro Fx/U.S. Dollar, Н, FXCM"
        watermark="EURUSD, Н"
        ellipse={{ i0: 140, i1: 164.4, pTop: 1.2298, pBottom: 1.1348 }}
        ticker="FX:EURUSD, W"
        ohlc={['1.16560', '1.17199', '1.16374', '1.17187']}
      />
      <Panel
        id="d"
        left={502.5}
        axisX={957.5}
        right={996.5}
        xRange={[502.8, 944.2]}
        firstOpen={dFirstOpen}
        close={dClose}
        high={dHigh}
        low={dLow}
        gapIdx={dGapIdx}
        gapOpen={dGapOpen}
        ema={dEma}
        dotFast={dDotFast}
        dotSlow={dDotSlow}
        ccBlue={dCcBlue}
        ccRed={dCcRed}
        priceDomain={[1.0444, 1.2187]}
        priceTicks={dPriceTicks}
        ccDomain={[-20, 40]}
        ccRange={[571, 509.3]}
        ccTicks={[40, 20, 0, -20]}
        timeLabels={dTimeLabels}
        timeIdx={dTimeIdx}
        timeBold={dTimeBold}
        title="Euro Fx/U.S. Dollar, Д, FXCM"
        watermark="EURUSD, Д"
        ellipse={{ i0: 81.5, i1: 212.2, pTop: 1.2292, pBottom: 1.135 }}
        ticker="FX:EURUSD, D"
        ohlc={['1.16668', '1.17199', '1.16615', '1.17187']}
      />
      <T x={4} y={612} sx={0.78} fontSize={10.5} fill="#333">Создано при помощи</T>
      <g fill="#45a8dc">
        <path d="M93 613 L98 606 L101 609 L105 604 L109 609 L109 613 Z" opacity={0.55} />
        <path d="M95 613 Q95 608 100 608 Q102 604 106 606 Q110 607 109 611 L109 613 Z" />
      </g>
      <T x={113} y={612} sx={0.82} fontSize={11} fill="#45a8dc">TradingView</T>
    </svg>
  );
}
